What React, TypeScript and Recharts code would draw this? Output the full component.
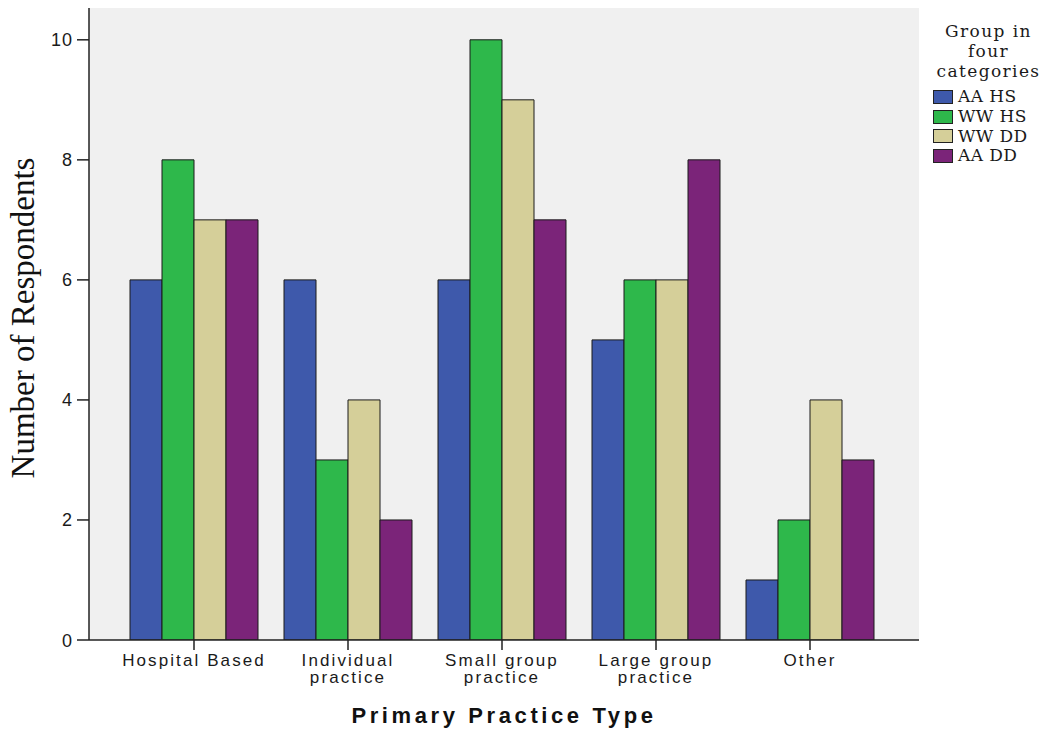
import React from 'react';
import { BarChart, Bar, XAxis, YAxis, CartesianGrid, Legend } from 'recharts';

const categories = ['Hospital Based', 'Individual practice', 'Small group practice', 'Large group practice', 'Other'];
const tickLines = [['Hospital Based'], ['Individual', 'practice'], ['Small group', 'practice'], ['Large group', 'practice'], ['Other']];
const aaHS = [6, 6, 6, 5, 1];
const wwHS = [8, 3, 10, 6, 2];
const wwDD = [7, 4, 9, 6, 4];
const aaDD = [7, 2, 7, 8, 3];
const seriesKeys = ['aaHS', 'wwHS', 'wwDD', 'aaDD'];
const seriesNames = ['AA HS', 'WW HS', 'WW DD', 'AA DD'];
const seriesColors = ['#3e59ab', '#2eb84b', '#d5cf99', '#7b2479'];
const yTicks = [0, 2, 4, 6, 8, 10];
const legendTitle = ['Group in', 'four', 'categories'];

const data = categories.map((c, i) => ({
  category: c,
  aaHS: aaHS[i],
  wwHS: wwHS[i],
  wwDD: wwDD[i],
  aaDD: aaDD[i],
}));

const SANS = '"Liberation Sans", Arial, sans-serif';
const SERIF = '"Liberation Serif", "Times New Roman", serif';
const SLAB = '"DejaVu Serif", serif';

const XTick = (props: any) => {
  const { x, y, payload } = props;
  const idx = categories.indexOf(payload.value);
  const lines = idx >= 0 ? tickLines[idx] : [String(payload.value)];
  return (
    <text x={x} y={y} textAnchor="middle" fontFamily={SANS} fontSize={17} letterSpacing={2.1} fill="#1a1a1a">
      {lines.map((l, i) => (
        <tspan key={i} x={x} dy={i === 0 ? 14 : 17}>
          {l}
        </tspan>
      ))}
    </text>
  );
};

const YTick = (props: any) => {
  const { x, y, payload } = props;
  return (
    <text x={x} y={y} dy={6.5} textAnchor="end" fontFamily={SANS} fontSize={18} letterSpacing={1} fill="#1a1a1a">
      {payload.value}
    </text>
  );
};

const XLabel = (props: any) => {
  const vb = props.viewBox;
  return (
    <text
      x={vb.x + vb.width / 2}
      y={vb.y + vb.height - 6}
      textAnchor="middle"
      fontFamily={SANS}
      fontWeight="bold"
      fontSize={22}
      letterSpacing={3.6}
      fill="#111"
    >
      Primary Practice Type
    </text>
  );
};

const YLabel = (props: any) => {
  const vb = props.viewBox;
  const cx = vb.x + 34;
  const cy = vb.y + vb.height / 2 - 6;
  return (
    <text
      x={cx}
      y={cy}
      transform={`rotate(-90 ${cx} ${cy})`}
      textAnchor="middle"
      fontFamily={SERIF}
      fontSize={33}
      fill="#111"
    >
      Number of Respondents
    </text>
  );
};

const LegendBox = () => (
  <div style={{ fontFamily: SLAB, color: '#1a1a1a' }}>
    <div style={{ textAlign: 'center', lineHeight: '20px', fontSize: 17, letterSpacing: 1.4 }}>
      {legendTitle.map((t) => (
        <div key={t}>{t}</div>
      ))}
    </div>
    <div style={{ marginTop: 6, fontSize: 17, letterSpacing: 0.4 }}>
      {seriesNames.map((n, i) => (
        <div key={n} style={{ display: 'flex', alignItems: 'center', height: 19.8, lineHeight: '19.8px' }}>
          <span
            style={{
              display: 'inline-block',
              width: 18,
              height: 12,
              background: seriesColors[i],
              border: '1px solid #222',
              marginLeft: 5,
              marginRight: 5,
            }}
          />
          <span>{n}</span>
        </div>
      ))}
    </div>
  </div>
);

export default function App() {
  return (
    <div style={{ position: 'absolute', left: 0, top: 0, width: 1049, height: 729, background: '#fff' }}>
      <BarChart
        width={1049}
        height={729}
        data={data}
        margin={{ top: 8, right: 130, bottom: 0, left: 0 }}
        barCategoryGap={13}
        barGap={0}
      >
        <CartesianGrid fill="#f0f0f0" horizontal={false} vertical={false} />
        <XAxis
          dataKey="category"
          height={89}
          padding={{ left: 28, right: 32 }}
          tickSize={10}
          tickMargin={2}
          interval={0}
          tick={<XTick />}
          axisLine={{ stroke: '#222', strokeWidth: 1.5 }}
          tickLine={{ stroke: '#222', strokeWidth: 1.5 }}
          label={XLabel}
        />
        <XAxis
          xAxisId="top"
          orientation="top"
          dataKey="category"
          height={0}
          tick={false}
          tickLine={false}
          axisLine={{ stroke: '#8a8a8a', strokeWidth: 2 }}
        />
        <YAxis
          width={89}
          domain={[0, 10.53]}
          ticks={yTicks}
          tickSize={12}
          tickMargin={4}
          tick={<YTick />}
          axisLine={{ stroke: '#222', strokeWidth: 1.5 }}
          tickLine={{ stroke: '#222', strokeWidth: 1.5 }}
          label={YLabel}
          allowDataOverflow
        />
        <YAxis
          yAxisId="right"
          orientation="right"
          width={0}
          tick={false}
          tickLine={false}
          axisLine={{ stroke: '#555', strokeWidth: 2 }}
        />
        <Legend
          layout="vertical"
          align="center"
          verticalAlign="middle"
          wrapperStyle={{ left: 928, top: 21, width: 121 }}
          content={() => <LegendBox />}
        />
        {seriesKeys.map((k, i) => (
          <Bar
            key={k}
            dataKey={k}
            name={seriesNames[i]}
            fill={seriesColors[i]}
            stroke="#1a1a1a"
            strokeWidth={1}
            isAnimationActive={false}
          />
        ))}
      </BarChart>
    </div>
  );
}
